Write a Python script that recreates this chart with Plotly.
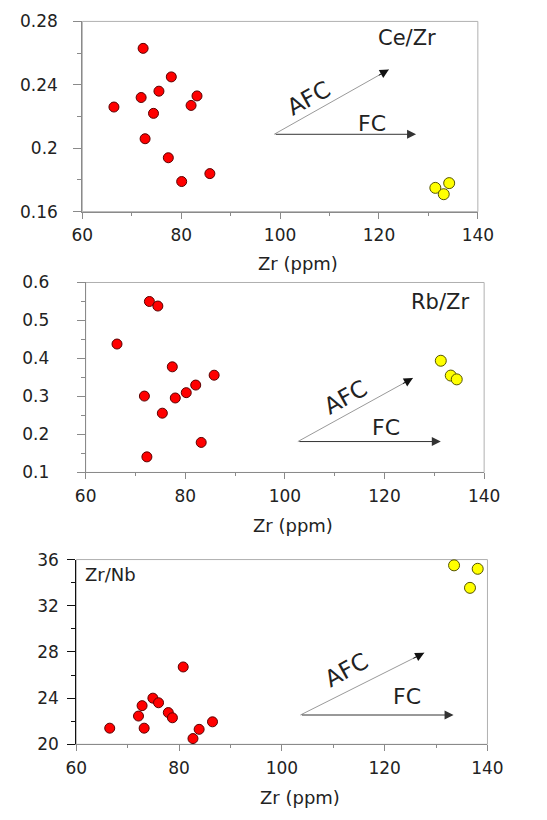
import plotly.graph_objects as go

# ---- Ce/Zr vs Zr ----
ce_zr_red_x = [72.3, 78.0, 66.4, 71.9, 75.5, 83.2, 82.0, 74.4, 72.7, 77.4, 85.8, 80.1]
ce_zr_red_y = [0.263, 0.245, 0.226, 0.232, 0.236, 0.233, 0.227, 0.222, 0.206, 0.194, 0.184, 0.179]
ce_zr_yel_x = [131.4, 134.2, 133.1]
ce_zr_yel_y = [0.175, 0.178, 0.171]

# ---- Rb/Zr vs Zr ----
rb_zr_red_x = [72.8, 74.5, 66.3, 77.4, 85.8, 82.1, 80.2, 71.8, 78.0, 75.4, 83.2, 72.3]
rb_zr_red_y = [0.550, 0.538, 0.438, 0.378, 0.356, 0.330, 0.310, 0.301, 0.296, 0.256, 0.179, 0.141]
rb_zr_yel_x = [131.3, 133.3, 134.5]
rb_zr_yel_y = [0.394, 0.355, 0.345]

# ---- Zr/Nb vs Zr ----
zr_nb_red_x = [66.5, 72.8, 72.1, 73.2, 74.9, 76.0, 77.9, 78.7, 80.8, 82.7, 83.9, 86.5]
zr_nb_red_y = [21.4, 23.35, 22.45, 21.4, 24.0, 23.6, 22.75, 22.3, 26.7, 20.5, 21.3, 21.95]
zr_nb_yel_x = [133.5, 138.1, 136.6]
zr_nb_yel_y = [35.5, 35.2, 33.55]

x_range = [60, 140]
x_ticks = [60, 80, 100, 120, 140]
ce_ticks = [0.16, 0.2, 0.24, 0.28]
rb_ticks = [0.1, 0.2, 0.3, 0.4, 0.5, 0.6]
nb_ticks = [20, 24, 28, 32, 36]

FONT = "DejaVu Sans"
TXT = "#222222"

fig = go.Figure()

panels = [
    dict(ax="", rx=ce_zr_red_x, ry=ce_zr_red_y, yx=ce_zr_yel_x, yy=ce_zr_yel_y),
    dict(ax="2", rx=rb_zr_red_x, ry=rb_zr_red_y, yx=rb_zr_yel_x, yy=rb_zr_yel_y),
    dict(ax="3", rx=zr_nb_red_x, ry=zr_nb_red_y, yx=zr_nb_yel_x, yy=zr_nb_yel_y),
]

for p in panels:
    fig.add_trace(go.Scatter(
        x=p["rx"], y=p["ry"], mode="markers", xaxis="x" + p["ax"], yaxis="y" + p["ax"],
        marker=dict(size=10, color="#ff0000", line=dict(color="#5a0000", width=1)),
        showlegend=False, cliponaxis=False))
    fig.add_trace(go.Scatter(
        x=p["yx"], y=p["yy"], mode="markers", xaxis="x" + p["ax"], yaxis="y" + p["ax"],
        marker=dict(size=11, color="#ffff00", line=dict(color="#555500", width=1)),
        showlegend=False, cliponaxis=False))


def xaxis_cfg(domain, anchor, standoff):
    return dict(domain=domain, anchor=anchor, range=x_range, tickvals=x_ticks,
                showgrid=False, zeroline=False, showline=True, linecolor="#8a8a8a",
                linewidth=1, mirror=False, ticks="outside", ticklen=6, tickcolor="#8a8a8a",
                ticklabelstandoff=standoff,
                minor=dict(dtick=10, ticks="outside", ticklen=3, tickcolor="#8a8a8a"),
                tickfont=dict(family=FONT, size=17, color=TXT))


def yaxis_cfg(domain, anchor, rng, ticks, minor_dt, standoff, line="#8a8a8a"):
    return dict(domain=domain, anchor=anchor, range=rng, tickvals=ticks,
                showgrid=False, zeroline=False, showline=True, linecolor=line,
                linewidth=1, mirror=False, ticks="outside", ticklen=8, tickcolor=line,
                ticklabelstandoff=standoff,
                minor=dict(dtick=minor_dt, tick0=rng[0], ticks="outside", ticklen=4,
                           tickcolor=line),
                tickfont=dict(family=FONT, size=17, color=TXT))


W, H = 547, 820


def dom_x(a, b):
    return [a / W, b / W]


def dom_y(top, bottom):
    return [1 - bottom / H, 1 - top / H]


fig.update_layout(
    width=W, height=H, margin=dict(l=0, r=0, t=0, b=0),
    paper_bgcolor="white", plot_bgcolor="white",
    xaxis=xaxis_cfg(dom_x(75.0, 491.1), "y", 2),
    yaxis=yaxis_cfg(dom_y(11.7, 206.7), "x", [0.16, 0.28], ce_ticks, 0.02, 12),
    xaxis2=xaxis_cfg(dom_x(78.5, 497.7), "y2", 2),
    yaxis2=yaxis_cfg(dom_y(279.3, 474.0), "x2", [0.1, 0.6], rb_ticks, 0.05, 24),
    xaxis3=xaxis_cfg(dom_x(68.7, 501.2), "y3", 2),
    yaxis3=yaxis_cfg(dom_y(563.3, 752.7), "x3", [20, 36], nb_ticks, 2, 5, line="#111111"),
)

shapes = []
annotations = []

# light frame around each panel
for s in ["", "2", "3"]:
    shapes.append(dict(type="rect", xref="x" + s + " domain", yref="y" + s + " domain",
                       x0=0, x1=1, y0=0, y1=1, line=dict(color="#b0b0b0", width=1),
                       layer="below"))

# process vectors: start point, AFC end, FC end, label spots
vectors = [
    dict(s="", x0=98.8, y0=0.2088, afc=(122.0, 0.2496), fc_x=127.5,
         afc_lbl=(105.8, 0.2318), fc_lbl=(118.5, 0.2158)),
    dict(s="2", x0=102.6, y0=0.1813, afc=(125.7, 0.3483), fc_x=131.3,
         afc_lbl=(112.2, 0.2986), fc_lbl=(120.4, 0.2173)),
    dict(s="3", x0=103.6, y0=22.54, afc=(127.7, 27.92), fc_x=133.4,
         afc_lbl=(112.5, 26.42), fc_lbl=(124.3, 24.11)),
]

for v in vectors:
    xr, yr = "x" + v["s"], "y" + v["s"]
    ax_, ay_ = v["afc"]
    # grey AFC shaft
    shapes.append(dict(type="line", xref=xr, yref=yr, x0=v["x0"], y0=v["y0"],
                       x1=ax_, y1=ay_, line=dict(color="#9a9a9a", width=1)))
    # black AFC head
    hx = v["x0"] + 0.9 * (ax_ - v["x0"])
    hy = v["y0"] + 0.9 * (ay_ - v["y0"])
    annotations.append(dict(xref=xr, yref=yr, axref=xr, ayref=yr, x=ax_, y=ay_,
                            ax=hx, ay=hy, text="", showarrow=True, arrowhead=2,
                            arrowsize=1.8, arrowwidth=1, arrowcolor="#111111", standoff=0))
    # FC arrow
    annotations.append(dict(xref=xr, yref=yr, axref=xr, ayref=yr, x=v["fc_x"], y=v["y0"],
                            ax=v["x0"], ay=v["y0"], text="", showarrow=True, arrowhead=2,
                            arrowsize=1.8, arrowwidth=1, arrowcolor="#333333", standoff=0))
    annotations.append(dict(xref=xr, yref=yr, x=v["afc_lbl"][0], y=v["afc_lbl"][1],
                            text="AFC", showarrow=False, textangle=-29,
                            font=dict(family=FONT, size=23, color=TXT)))
    annotations.append(dict(xref=xr, yref=yr, x=v["fc_lbl"][0], y=v["fc_lbl"][1],
                            text="FC", showarrow=False,
                            font=dict(family=FONT, size=22, color=TXT)))

# ratio names
annotations.append(dict(xref="x", yref="y", x=125.7, y=0.2693, text="Ce/Zr",
                        showarrow=False, font=dict(family=FONT, size=21, color=TXT)))
annotations.append(dict(xref="x2", yref="y2", x=131.2, y=0.5486, text="Rb/Zr",
                        showarrow=False, font=dict(family=FONT, size=21, color=TXT)))
annotations.append(dict(xref="x3", yref="y3", x=66.6, y=34.68, text="Zr/Nb",
                        showarrow=False, font=dict(family=FONT, size=18, color=TXT)))

# x-axis titles
for px, py in [(302, 259.5), (296.5, 528.3), (303.5, 806.7)]:
    annotations.append(dict(xref="paper", yref="paper", x=px / W, y=1 - py / H,
                            xanchor="center", yanchor="middle", text="Zr (ppm)",
                            showarrow=False, font=dict(family=FONT, size=18, color=TXT)))

fig.update_layout(shapes=shapes, annotations=annotations)

fig.write_html("out.html")
